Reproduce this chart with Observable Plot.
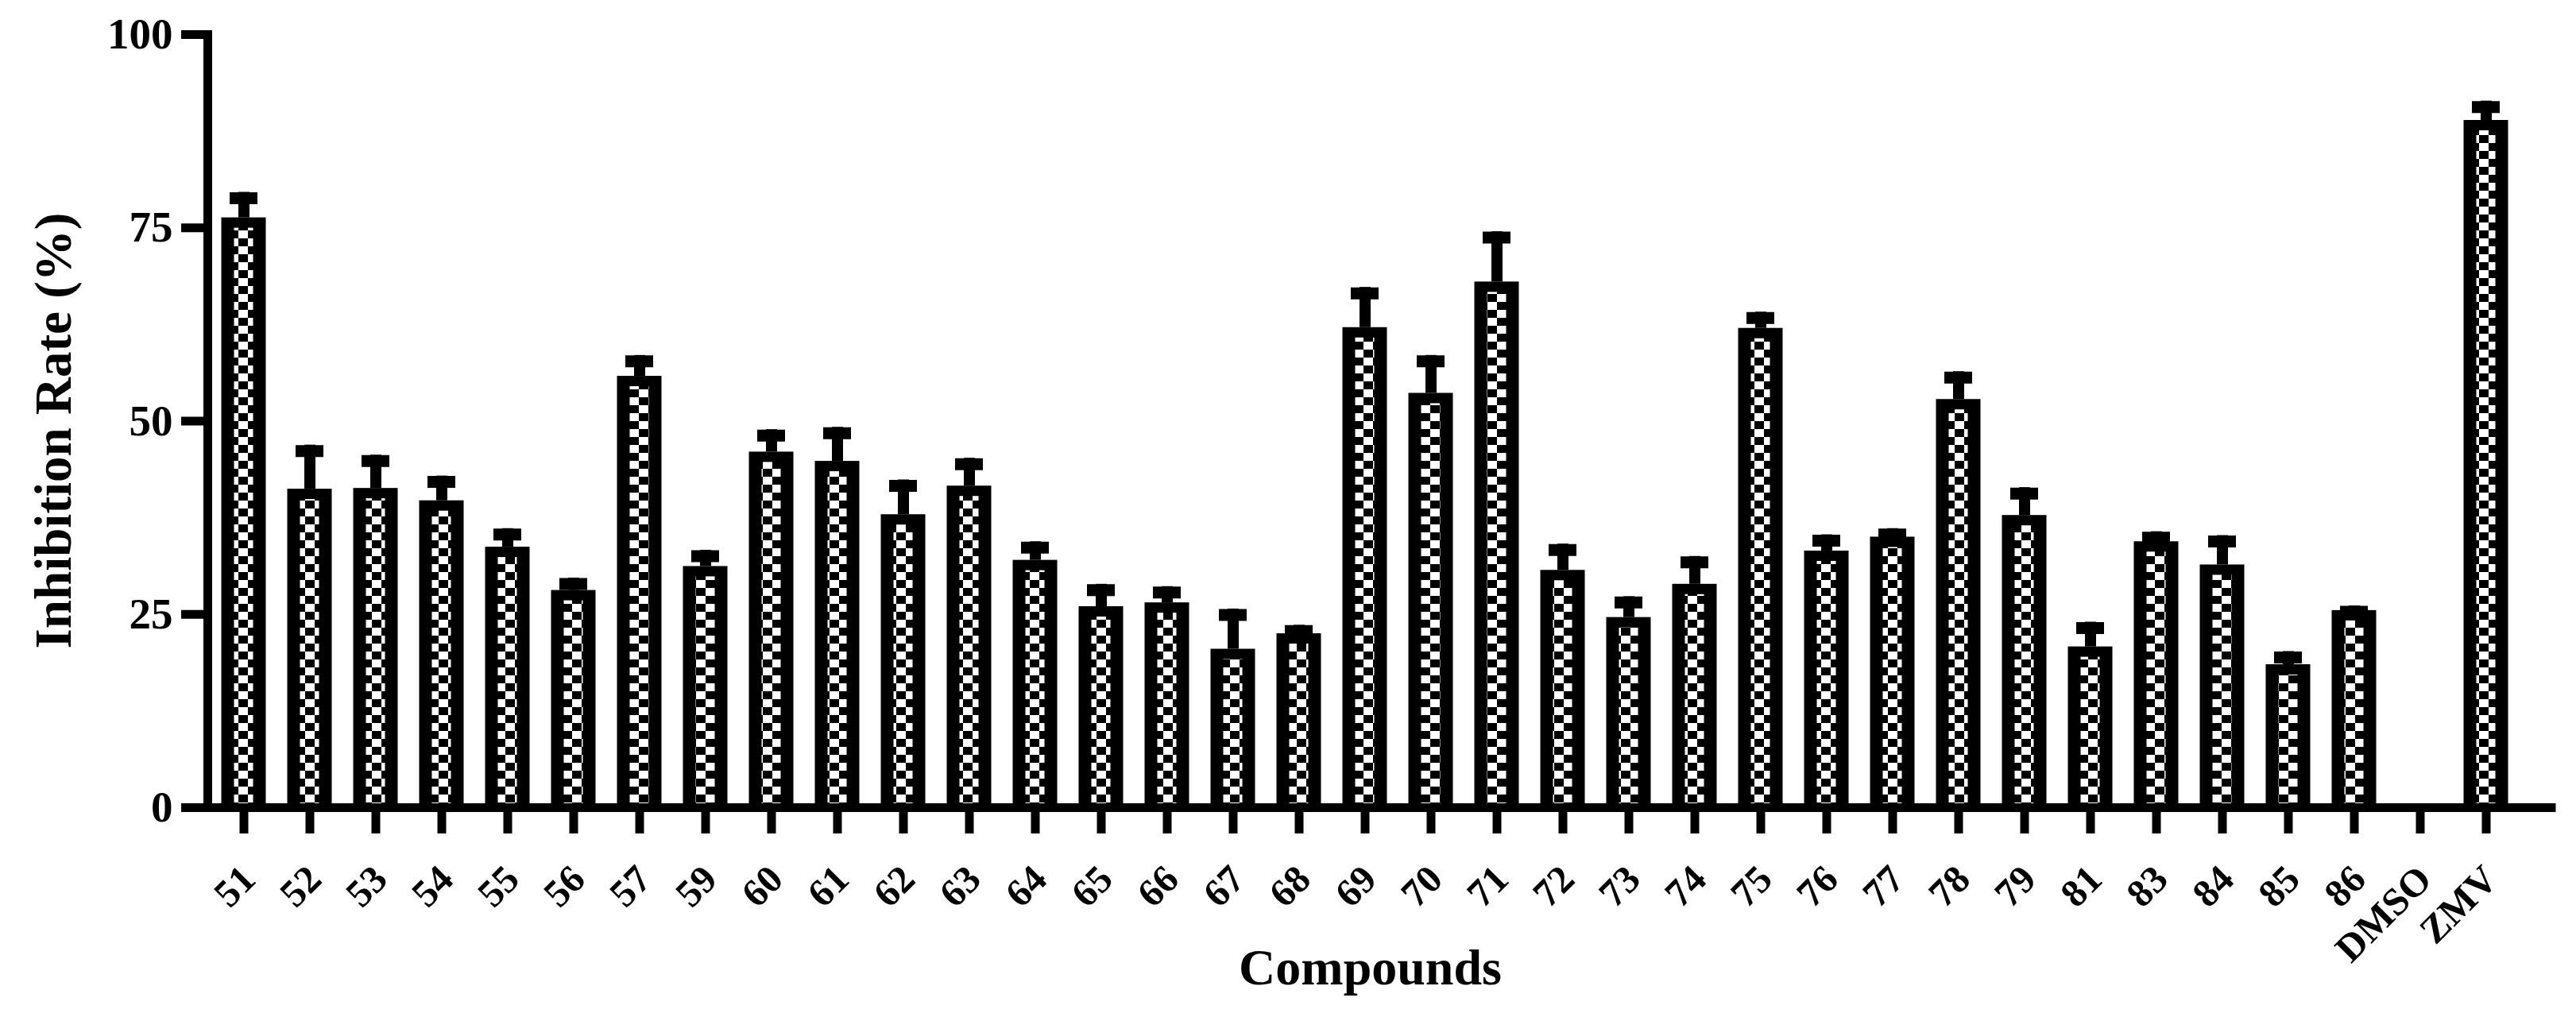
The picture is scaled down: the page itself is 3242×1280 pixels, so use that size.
<!DOCTYPE html>
<html><head><meta charset="utf-8">
<script src="https://cdn.jsdelivr.net/npm/d3@7"></script>
<script src="https://cdn.jsdelivr.net/npm/@observablehq/plot@0.6"></script>
<style>body{margin:0;background:#fff} svg{display:block}</style>
</head><body><div id="chart"></div>
<script>
const compounds = ["51","52","53","54","55","56","57","59","60","61","62","63","64","65","66","67","68","69","70","71","72","73","74","75","76","77","78","79","81","83","84","85","86","DMSO","ZMV"];
const inhibition = [76.3, 41.2, 41.3, 39.7, 33.7, 28.1, 55.8, 31.2, 46.0, 44.8, 37.9, 41.6, 32.0, 26.0, 26.5, 20.5, 22.5, 62.1, 53.6, 68.0, 30.7, 24.6, 28.9, 62.0, 33.2, 35.0, 52.8, 37.8, 20.8, 34.4, 31.4, 18.5, 25.5, null, 88.9];
const errorTop = [79.6, 46.9, 45.6, 42.9, 36.1, 29.7, 58.5, 33.3, 48.9, 49.2, 42.4, 45.2, 34.4, 28.9, 28.6, 25.7, 23.6, 67.3, 58.5, 74.5, 34.1, 27.3, 32.5, 64.1, 35.3, 36.1, 56.4, 41.4, 24.0, 35.7, 35.2, 20.2, 26.1, null, 91.4];
const yTicks = [0, 25, 50, 75, 100];
const xTitle = "Compounds";
const yTitle = "Inhibition Rate (%)";

const data = compounds.map((c, i) => ({c, v: inhibition[i], e: errorTop[i]})).filter(d => d.v != null);
const serif = "'Liberation Serif', 'Times New Roman', serif";

const plot = Plot.plot({
  width: 3242, height: 1280,
  marginTop: 43, marginBottom: 264, marginLeft: 261, marginRight: 31,
  style: {fontFamily: serif, fontWeight: "bold", background: "#fff", color: "#000"},
  x: {domain: compounds, range: [259.3, 3175], padding: 0},
  y: {domain: [0, 100]},
  marks: [
    Plot.ruleX(data, {x: "c", y1: "v", y2: "e", strokeWidth: 14, stroke: "#000"}),
    Plot.tickY(data, {x: "c", y: "e", strokeWidth: 15, insetLeft: 24, insetRight: 24, dy: 7.5, stroke: "#000"}),
    Plot.barY(data, {x: "c", y: "v", fill: "#000", insetLeft: 13.5, insetRight: 13.5}),
    Plot.barY(data, {x: "c", y: "v", fill: "url(#chk)", insetLeft: 29.5, insetRight: 29.5, insetTop: 13}),
    Plot.axisY({ticks: yTicks, tickSize: 33, tickPadding: 11, strokeWidth: 11, fontSize: 55, label: null}),
    Plot.axisX({tickSize: 33, strokeWidth: 11, tickFormat: () => "", label: null}),
    Plot.frame({anchor: "left", strokeWidth: 11, strokeLinecap: "square"}),
    Plot.ruleY([0], {strokeWidth: 11, strokeLinecap: "square"}),
    Plot.text(compounds, {x: d => d, text: d => d, frameAnchor: "bottom", dx: 17, dy: 93, rotate: -45, textAnchor: "end", lineAnchor: "bottom", fontSize: 49, fontWeight: "bold", ariaLabel: "x-ticklabels"}),
    Plot.text([yTitle], {text: d => d, frameAnchor: "left", dx: -173, dy: 12, rotate: -90, textAnchor: "middle", lineAnchor: "bottom", fontSize: 65, fontWeight: "bold", ariaLabel: "y-title"}),
    Plot.text([xTitle], {text: d => d, frameAnchor: "bottom", dx: -12, dy: 222, lineAnchor: "bottom", fontSize: 64, fontWeight: "bold", ariaLabel: "x-title"})
  ]
});

const ns = "http://www.w3.org/2000/svg";
const defs = document.createElementNS(ns, "defs");
defs.innerHTML = '<pattern id="chk" patternUnits="userSpaceOnUse" width="24" height="20"><rect width="24" height="20" fill="#fff"/><rect x="12" y="0" width="12" height="10" fill="#000"/><rect x="0" y="10" width="12" height="10" fill="#000"/></pattern>';
plot.insertBefore(defs, plot.firstChild);
const yt = plot.querySelector('[aria-label="y-title"]');
if (yt) yt.setAttribute("letter-spacing", "2.6");
const xt = plot.querySelector('[aria-label="x-title"]');
if (xt) xt.setAttribute("letter-spacing", "2");
const xl = plot.querySelector('[aria-label="x-ticklabels"]');
if (xl) xl.setAttribute("letter-spacing", "1");
document.getElementById("chart").appendChild(plot);
</script>
</body></html>
